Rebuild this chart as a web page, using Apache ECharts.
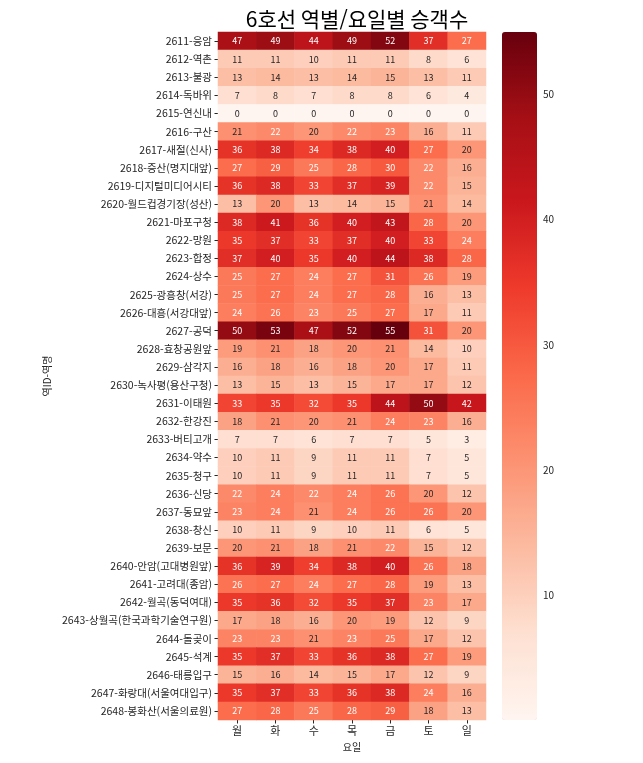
<!DOCTYPE html>
<html lang="ko" style="height: 100%">
<head>
  <meta charset="utf-8">
</head>
<body style="height: 100%; margin: 0">
  <div id="container" style="height: 100%"></div>

  <script type="text/javascript" src="https://cdn.jsdelivr.net/npm/echarts@6/dist/echarts.min.js"></script>

  <script type="text/javascript">
    var dom = document.getElementById('container');
    var myChart = echarts.init(dom, null, { renderer: 'canvas' });

    const days = ['월', '화', '수', '목', '금', '토', '일'];

    const stations = [
      '2611-응암', '2612-역촌', '2613-불광', '2614-독바위', '2615-연신내',
      '2616-구산', '2617-새절(신사)', '2618-증산(명지대앞)', '2619-디지털미디어시티',
      '2620-월드컵경기장(성산)', '2621-마포구청', '2622-망원', '2623-합정', '2624-상수',
      '2625-광흥창(서강)', '2626-대흥(서강대앞)', '2627-공덕', '2628-효창공원앞',
      '2629-삼각지', '2630-녹사평(용산구청)', '2631-이태원', '2632-한강진', '2633-버티고개',
      '2634-약수', '2635-청구', '2636-신당', '2637-동묘앞', '2638-창신', '2639-보문',
      '2640-안암(고대병원앞)', '2641-고려대(종암)', '2642-월곡(동덕여대)',
      '2643-상월곡(한국과학기술연구원)', '2644-돌곶이', '2645-석계', '2646-태릉입구',
      '2647-화랑대(서울여대입구)', '2648-봉화산(서울의료원)'
    ];

    // passengers per station, Mon..Sun
    const passengers = [
      [47, 49, 44, 49, 52, 37, 27],
      [11, 11, 10, 11, 11, 8, 6],
      [13, 14, 13, 14, 15, 13, 11],
      [7, 8, 7, 8, 8, 6, 4],
      [0, 0, 0, 0, 0, 0, 0],
      [21, 22, 20, 22, 23, 16, 11],
      [36, 38, 34, 38, 40, 27, 20],
      [27, 29, 25, 28, 30, 22, 16],
      [36, 38, 33, 37, 39, 22, 15],
      [13, 20, 13, 14, 15, 21, 14],
      [38, 41, 36, 40, 43, 28, 20],
      [35, 37, 33, 37, 40, 33, 24],
      [37, 40, 35, 40, 44, 38, 28],
      [25, 27, 24, 27, 31, 26, 19],
      [25, 27, 24, 27, 28, 16, 13],
      [24, 26, 23, 25, 27, 17, 11],
      [50, 53, 47, 52, 55, 31, 20],
      [19, 21, 18, 20, 21, 14, 10],
      [16, 18, 16, 18, 20, 17, 11],
      [13, 15, 13, 15, 17, 17, 12],
      [33, 35, 32, 35, 44, 50, 42],
      [18, 21, 20, 21, 24, 23, 16],
      [7, 7, 6, 7, 7, 5, 3],
      [10, 11, 9, 11, 11, 7, 5],
      [10, 11, 9, 11, 11, 7, 5],
      [22, 24, 22, 24, 26, 20, 12],
      [23, 24, 21, 24, 26, 26, 20],
      [10, 11, 9, 10, 11, 6, 5],
      [20, 21, 18, 21, 22, 15, 12],
      [36, 39, 34, 38, 40, 26, 18],
      [26, 27, 24, 27, 28, 19, 13],
      [35, 36, 32, 35, 37, 23, 17],
      [17, 18, 16, 20, 19, 12, 9],
      [23, 23, 21, 23, 25, 17, 12],
      [35, 37, 33, 36, 38, 27, 19],
      [15, 16, 14, 15, 17, 12, 9],
      [35, 37, 33, 36, 38, 24, 16],
      [27, 28, 25, 28, 29, 18, 13]
    ];

    const colorbarTicks = [10, 20, 30, 40, 50];

    const reds = ['#fff5f0', '#fee0d2', '#fcbba1', '#fc9272', '#fb6a4a',
                  '#ef3b2c', '#cb181d', '#a50f15', '#67000d'];

    const fontKr = '"Noto Sans CJK KR", "Noto Sans", sans-serif';

    const cells = [];
    passengers.forEach(function (row, i) {
      row.forEach(function (v, j) {
        cells.push({
          value: [j, i, v],
          label: { color: v >= 22 ? '#ffffff' : '#262626' }
        });
      });
    });

    const option = {
      backgroundColor: '#ffffff',
      animation: false,
      title: {
        text: '6호선 역별/요일별 승객수',
        left: 352,
        textAlign: 'center',
        top: 4,
        textStyle: { fontFamily: fontKr, fontSize: 21, fontWeight: 'normal', color: '#000' }
      },
      grid: [
        { left: 218, top: 32, width: 268, height: 688 },
        { left: 502, top: 32, width: 35, height: 688 }
      ],
      xAxis: [
        {
          type: 'category',
          data: days,
          gridIndex: 0,
          name: '요일',
          nameLocation: 'middle',
          nameGap: 22,
          nameTextStyle: { fontFamily: fontKr, fontSize: 10, color: '#262626' },
          axisLine: { show: false },
          axisTick: { show: true, alignWithLabel: true, length: 3.5, lineStyle: { color: '#262626' } },
          axisLabel: { fontFamily: fontKr, fontSize: 11, color: '#262626', margin: 5 },
          splitLine: { show: false }
        },
        { type: 'value', gridIndex: 1, show: false, min: 0, max: 1 }
      ],
      yAxis: [
        {
          type: 'category',
          data: stations,
          inverse: true,
          gridIndex: 0,
          name: '역ID-역명',
          nameLocation: 'middle',
          nameGap: 166,
          nameRotate: 90,
          nameTextStyle: { fontFamily: fontKr, fontSize: 10, color: '#262626' },
          axisLine: { show: false },
          axisTick: { show: true, alignWithLabel: true, length: 3.5, lineStyle: { color: '#262626' } },
          axisLabel: { fontFamily: fontKr, fontSize: 10.5, color: '#262626', margin: 6, interval: 0 },
          splitLine: { show: false }
        },
        {
          type: 'value',
          gridIndex: 1,
          position: 'right',
          min: 0,
          max: 55,
          axisLine: { show: false },
          axisTick: {
            show: true, length: 3.5, customValues: colorbarTicks,
            lineStyle: { color: '#262626' }
          },
          axisLabel: {
            fontFamily: fontKr, fontSize: 10, color: '#262626', margin: 6,
            customValues: colorbarTicks
          },
          splitLine: { show: false }
        }
      ],
      visualMap: {
        type: 'continuous',
        min: 0,
        max: 55,
        seriesIndex: 0,
        calculable: false,
        orient: 'vertical',
        left: 502,
        top: 32,
        itemWidth: 35,
        itemHeight: 688,
        padding: 0,
        text: ['', ''],
        showLabel: false,
        hoverLink: false,
        inRange: { color: reds }
      },
      series: [
        {
          type: 'heatmap',
          xAxisIndex: 0,
          yAxisIndex: 0,
          data: cells,
          label: {
            show: true,
            fontFamily: fontKr,
            fontSize: 9,
            formatter: function (p) { return p.value[2]; }
          },
          itemStyle: { borderWidth: 0 }
        }
      ]
    };

    myChart.setOption(option);
    window.addEventListener('resize', myChart.resize);
  </script>
</body>
</html>
